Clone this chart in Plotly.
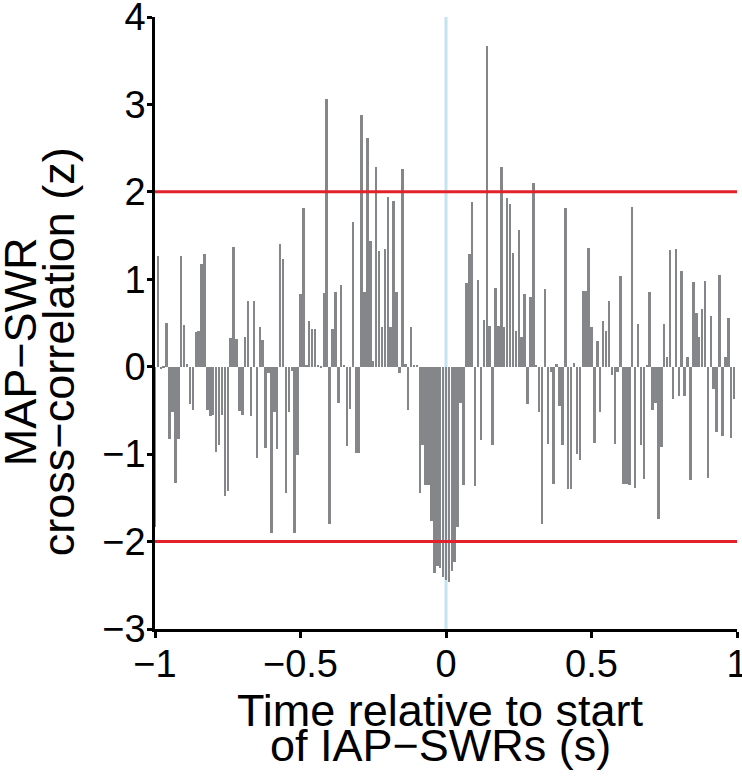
import plotly.graph_objects as go

# bin centres (s), 10 ms bins from -1 to 0.99
lags = [round(-1 + 0.01 * i, 2) for i in range(200)]

z = [
    -1.83, 1.27, -0.03, -0.02, 0.50, -0.83, -0.52, -1.33, -0.83, 1.27,
    0.48, 0.03, -0.43, -0.50, 0.40, 0.41, 1.18, 1.29, -0.49, -0.56,
    -0.55, -0.97, -0.89, -0.55, -1.48, -1.42, 0.33, 1.37, 0.32, -0.51,
    -0.55, 0.34, 0.75, -0.56, 0.75, -1.04, 0.45, 0.30, -0.93, -0.07,
    -1.90, -0.52, -0.94, 1.40, 1.23, -1.45, -0.52, -0.05, -1.90, -1.01,
    0.83, 1.81, 0.01, 0.52, 0.43, 0.43, 0.01, -0.02, 0.84, 3.06,
    -1.80, 0.43, 0.85, -0.42, 0.94, 0.01, -0.91, -0.48, 1.65, -0.99,
    -0.99, 2.88, 0.86, 2.62, 1.44, 0.07, 2.28, 1.32, 0.45, 1.35,
    1.94, 0.45, 1.89, 0.86, -0.07, 2.26, 0.03, -0.49, 0.45, 0.01,
    0.01, -1.45, -0.90, -1.35, -1.35, -1.77, -2.36, -2.28, -2.30, -2.40,
    -2.44, -2.46, -2.34, -2.23, -1.83, -0.42, -1.35, 0.96, 1.29, 1.88,
    -1.37, 0.99, -0.84, 0.54, 3.67, 0.47, -0.90, 0.90, 0.47, 2.28,
    0.46, 1.93, 1.86, 1.30, 0.41, 1.56, 0.34, 0.83, -0.43, 0.80,
    2.10, 0.02, -0.52, -1.80, 0.89, -0.88, -0.06, -1.34, 0.03, -0.45,
    -0.90, 1.81, -1.40, -1.40, 0.04, -1.00, -1.07, 0.87, 0.87, 1.36,
    0.46, -0.87, 0.29, -0.52, 0.52, 0.41, 0.75, -0.10, -0.88, -0.06,
    1.04, -1.34, -1.34, -1.35, 1.83, -1.39, 0.49, -0.90, -1.28, 0.01,
    0.85, -0.50, -0.41, -1.74, -0.92, 0.49, 0.11, 1.33, -0.37, 1.35,
    -0.33, 1.10, -0.33, 0.11, -1.29, 0.97, 0.62, 0.34, 0.66, 0.98,
    -1.27, 0.58, -0.26, -0.75, 1.05, -0.79, 0.11, 0.56, -0.82, -0.37,
]

thresholds = [-2, 2]
onset = 0

xticks = [-1, -0.5, 0, 0.5, 1]
xticklabels = ["\u22121", "\u22120.5", "0", "0.5", "1"]
yticks = [-3, -2, -1, 0, 1, 2, 3, 4]
yticklabels = ["\u22123", "\u22122", "\u22121", "0", "1", "2", "3", "4"]

FONT = "Liberation Sans, Arial, Helvetica, sans-serif"

fig = go.Figure()
fig.add_trace(go.Bar(x=lags, y=z, width=0.0085,
                     marker=dict(color="#858689", line=dict(width=0))))

# onset marker behind the bars, significance lines on top
fig.add_shape(type="line", xref="x", yref="y", x0=onset, x1=onset, y0=-3, y1=4,
              line=dict(color="#c3e4ef", width=3), layer="below")
for t in thresholds:
    fig.add_shape(type="line", xref="x", yref="y", x0=-1, x1=1, y0=t, y1=t,
                  line=dict(color="#e3212b", width=3), layer="above")

title_font = dict(family=FONT, size=45, color="black")
fig.add_annotation(text="Time relative to start", xref="paper", yref="paper",
                   x=0.49, y=-0.133, xanchor="center", yanchor="middle",
                   showarrow=False, font=title_font)
fig.add_annotation(text="of IAP\u2212SWRs (s)", xref="paper", yref="paper",
                   x=0.49, y=-0.19, xanchor="center", yanchor="middle",
                   showarrow=False, font=title_font)
fig.add_annotation(text="MAP\u2212SWR", xref="paper", yref="paper",
                   x=-0.231, y=0.453, xanchor="center", yanchor="middle",
                   textangle=-90, showarrow=False, font=title_font)
fig.add_annotation(text="cross\u2212correlation (z)", xref="paper", yref="paper",
                   x=-0.166, y=0.453, xanchor="center", yanchor="middle",
                   textangle=-90, showarrow=False, font=title_font)

fig.update_layout(
    width=742, height=776,
    margin=dict(l=155, r=5, t=17, b=147),
    plot_bgcolor="white", paper_bgcolor="white",
    showlegend=False, bargap=0,
    font=dict(family=FONT, size=38, color="black"),
)
fig.update_xaxes(range=[-1, 1], tickvals=xticks, ticktext=xticklabels,
                 showline=True, linecolor="black", linewidth=2.5,
                 ticks="outside", ticklen=6, tickwidth=2.5, tickcolor="black",
                 showgrid=False, zeroline=False, ticklabelstandoff=-6,
                 ticklabeloverflow="allow", automargin=False)
fig.update_yaxes(range=[-3, 4], tickvals=yticks, ticktext=yticklabels,
                 showline=True, linecolor="black", linewidth=2.5,
                 ticks="outside", ticklen=5, tickwidth=2.5, tickcolor="black",
                 showgrid=False, zeroline=False, ticklabelstandoff=-6,
                 ticklabeloverflow="allow", automargin=False)

# drop the default page margin so the figure sits at the window's corner
fig.write_html("out.html", config={"displayModeBar": False},
               post_script="document.body.style.margin='0';")
